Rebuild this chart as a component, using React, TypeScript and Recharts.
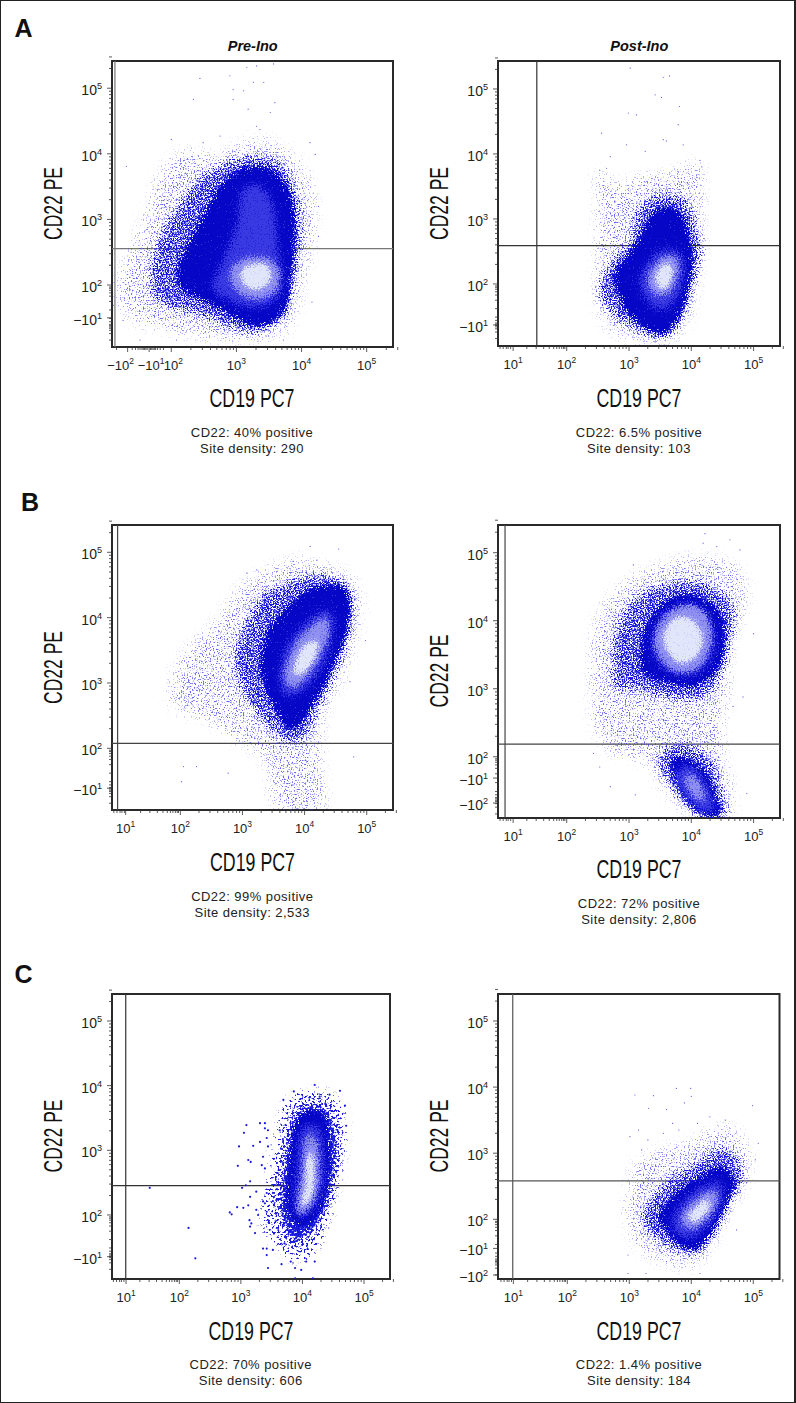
import React from 'react';
import { ScatterChart, Scatter, XAxis, YAxis, ReferenceLine, ReferenceArea } from 'recharts';

type P = [number, number];

// Density contours and single events, in decades of the channels (10^d).
const aLeftHalo: P[] = [[1.16,2.03],[1.31,2.38],[1.62,3.1],[1.83,3.71],[2.24,4.07],[2.65,3.96],[3.06,4.17],[3.47,4.22],[3.88,3.96],[4.13,3.61],[4.21,3.1],[4.13,2.48],[3.98,1.87],[3.83,1.36],[3.36,1.16],[2.75,1.16],[2.13,1.26],[1.52,1.41],[1.21,1.67]];
const aLeftShell: P[] = [[1.67,2.13],[1.77,2.64],[2.08,3.2],[2.39,3.61],[2.7,3.81],[3.06,3.96],[3.47,3.96],[3.77,3.76],[3.95,3.35],[4.01,2.89],[3.93,2.28],[3.8,1.67],[3.62,1.41],[3.26,1.26],[2.85,1.36],[2.44,1.54],[2.03,1.62],[1.72,1.82]];
const aLeftBody: P[] = [[2.08,2.18],[2.24,2.59],[2.49,3.05],[2.75,3.51],[3.06,3.76],[3.41,3.81],[3.72,3.61],[3.88,3.2],[3.9,2.69],[3.85,2.18],[3.77,1.67],[3.52,1.41],[3.21,1.39],[2.85,1.57],[2.49,1.77],[2.18,1.92]];
const aLeftMid: P[] = [[2.75,2.3],[3.0,2.95],[3.05,3.4],[3.26,3.55],[3.5,3.4],[3.62,3.0],[3.64,2.59],[3.72,2.13],[3.62,1.77],[3.26,1.64],[2.85,1.77],[2.6,1.97]];
const aLeftLight: P[] = [[2.9,2.23],[3.11,2.41],[3.42,2.43],[3.65,2.28],[3.65,1.97],[3.47,1.8],[3.16,1.8],[2.95,1.97]];
const aLeftCore: P[] = [[3.06,2.2],[3.26,2.33],[3.47,2.31],[3.54,2.13],[3.42,1.95],[3.16,1.95]];
const aLeftDots: P[] = [[3.31,5.34],[3.16,5.32],[3.57,5.37],[2.44,5.15],[2.9,5.19],[3.26,5.09],[3.42,5.09],[2.95,4.98],[3.11,4.96],[2.34,4.83],[3.59,4.78],[3.31,4.42],[3.36,4.37],[2.75,4.27],[2.0,4.22],[2.49,4.17],[4.13,4.17],[4.21,3.99],[4.26,3.2],[4.26,2.74],[4.16,1.74],[1.31,3.81],[1.11,1.69],[1.26,1.46],[1.52,1.16],[2.08,1.16],[3.72,1.16],[3.52,4.63],[2.95,4.83],[3.18,4.68]];

const aRightHalo: P[] = [[2.49,3.76],[2.86,3.5],[3.18,3.66],[3.6,3.71],[4.14,3.86],[4.18,3.35],[4.17,2.63],[4.09,2.02],[3.98,1.5],[3.76,1.2],[3.5,1.07],[3.07,1.14],[2.7,1.3],[2.49,1.71],[2.49,2.58],[2.49,3.25]];
const aRightShell: P[] = [[2.53,2.02],[2.75,2.43],[3.02,2.63],[3.07,3.04],[3.28,3.3],[3.6,3.4],[3.93,3.3],[4.09,2.89],[4.17,2.58],[4.09,2.17],[3.95,1.66],[3.76,1.3],[3.5,1.17],[3.07,1.3],[2.75,1.5],[2.53,1.76]];
const aRightBody: P[] = [[2.75,2.12],[2.96,2.43],[3.18,2.73],[3.34,3.04],[3.6,3.19],[3.87,3.04],[3.98,2.63],[4.03,2.32],[3.95,1.91],[3.82,1.5],[3.6,1.25],[3.39,1.25],[3.07,1.45],[2.86,1.76]];
const aRightMid: P[] = [[3.15,2.02],[3.31,2.37],[3.55,2.55],[3.82,2.5],[3.9,2.27],[3.82,1.86],[3.6,1.6],[3.34,1.66]];
const aRightLight: P[] = [[3.28,2.04],[3.42,2.32],[3.63,2.45],[3.81,2.37],[3.79,2.12],[3.66,1.86],[3.44,1.81]];
const aRightCore: P[] = [[3.42,2.09],[3.5,2.27],[3.66,2.32],[3.71,2.17],[3.63,1.96],[3.5,1.91]];
const aRightDots: P[] = [[3.02,5.32],[3.55,5.18],[3.65,5.2],[3.42,4.91],[3.52,4.87],[3.81,4.73],[2.99,4.63],[3.12,4.6],[3.79,4.45],[2.56,4.32],[3.55,4.22],[3.6,4.2],[2.96,4.14],[3.87,4.14],[2.7,3.96],[3.26,4.04],[4.14,3.9],[4.17,3.8],[2.53,3.75],[2.64,3.78]];

const bLeftHalo: P[] = [[1.86,3.05],[2.02,3.4],[2.26,3.66],[2.59,3.96],[2.96,4.47],[3.39,4.73],[3.82,4.88],[4.25,4.83],[4.74,4.63],[4.9,4.27],[4.85,3.81],[4.68,3.25],[4.36,2.64],[4.25,2.0],[4.3,1.08],[3.56,1.08],[3.35,1.82],[2.8,2.18],[2.42,2.43],[1.86,2.64]];
const bLeftShell: P[] = [[2.85,3.25],[2.96,3.76],[3.28,4.32],[3.66,4.53],[4.2,4.68],[4.68,4.53],[4.79,4.17],[4.71,3.66],[4.47,3.05],[4.2,2.54],[4.04,2.18],[3.72,2.08],[3.39,2.33],[3.07,2.74]];
const bLeftBody: P[] = [[3.28,3.25],[3.39,3.76],[3.72,4.17],[4.15,4.47],[4.63,4.47],[4.74,4.12],[4.63,3.66],[4.41,3.15],[4.09,2.59],[3.82,2.28],[3.66,2.38],[3.45,2.74]];
const bLeftMid: P[] = [[3.58,3.15],[3.72,3.61],[4.04,3.96],[4.36,4.14],[4.49,3.96],[4.41,3.51],[4.2,3.1],[3.93,2.84],[3.66,2.79]];
const bLeftLight: P[] = [[3.66,3.1],[3.82,3.56],[4.09,3.86],[4.33,4.02],[4.41,3.86],[4.31,3.51],[4.09,3.15],[3.82,2.92]];
const bLeftCore: P[] = [[3.82,3.2],[3.93,3.51],[4.15,3.66],[4.23,3.56],[4.12,3.3],[3.9,3.1]];
const bLeftDots: P[] = [[4.09,5.09],[4.55,5.05],[4.2,4.88],[3.82,4.86],[3.23,4.73],[3.07,4.68],[4.98,3.65],[4.79,1.87],[2.26,1.72],[2.05,1.72],[2.02,1.49],[2.77,1.62],[4.73,3.02],[4.62,4.63]];

const bRightHalo: P[] = [[2.4,2.83],[2.4,3.62],[2.53,4.11],[2.8,4.45],[3.18,4.7],[3.6,4.84],[4.03,4.94],[4.67,4.84],[4.89,4.5],[4.83,4.11],[4.62,3.67],[4.59,3.03],[4.51,2.44],[4.54,1.95],[4.65,1.14],[4.03,1.14],[3.5,1.6],[3.34,1.9],[2.75,2.05],[2.48,2.34]];
const bRightShellUpper: P[] = [[2.75,3.03],[2.75,3.72],[2.96,4.21],[3.39,4.5],[3.93,4.6],[4.41,4.5],[4.7,4.16],[4.62,3.62],[4.46,3.13],[4.14,2.83],[3.5,2.88],[3.07,2.98]];
const bRightShellLower: P[] = [[3.6,2.15],[3.93,2.2],[4.35,1.95],[4.54,1.36],[4.59,1.14],[4.09,1.14],[3.66,1.56],[3.44,1.9]];
const bRightBodyUpper: P[] = [[3.18,3.42],[3.28,3.96],[3.71,4.35],[4.14,4.35],[4.46,4.11],[4.54,3.67],[4.41,3.27],[4.03,3.03],[3.6,3.1],[3.28,3.18]];
const bRightBodyLower: P[] = [[3.66,1.85],[3.87,2.0],[4.25,1.75],[4.41,1.36],[4.46,1.14],[4.19,1.14],[3.93,1.36]];
const bRightMidUpper: P[] = [[3.36,3.67],[3.55,4.11],[3.98,4.25],[4.3,4.06],[4.38,3.62],[4.19,3.27],[3.87,3.18],[3.5,3.32]];
const bRightMidLower: P[] = [[3.71,1.71],[3.98,1.9],[4.25,1.61],[4.38,1.26],[4.25,1.14],[3.98,1.31]];
const bRightLightUpper: P[] = [[3.39,3.72],[3.6,4.11],[3.98,4.25],[4.27,4.06],[4.33,3.67],[4.14,3.32],[3.82,3.23],[3.55,3.37]];
const bRightLightLower: P[] = [[3.87,1.71],[4.03,1.75],[4.17,1.56],[4.25,1.36],[4.14,1.34],[3.98,1.46]];
const bRightCore: P[] = [[3.55,3.81],[3.76,4.06],[4.03,4.01],[4.19,3.76],[4.09,3.47],[3.82,3.37],[3.6,3.57]];
const bRightDots: P[] = [[4.22,5.28],[4.62,5.19],[4.19,5.14],[4.41,5.09],[4.78,5.04],[3.07,4.82],[5.0,3.81],[4.83,2.88],[4.67,2.74],[4.89,1.46],[2.43,2.05],[2.53,1.85],[2.7,1.56],[3.1,1.44]];

const cLeftHalo: P[] = [[3.36,2.03],[3.52,2.85],[3.69,3.62],[3.96,3.88],[4.39,3.88],[4.66,3.62],[4.66,3.0],[4.5,2.23],[4.34,1.72],[4.12,1.36],[3.85,1.31],[3.63,1.51],[3.42,1.72]];
const cLeftShell: P[] = [[3.61,2.13],[3.69,2.85],[3.85,3.52],[4.12,3.73],[4.44,3.62],[4.58,3.16],[4.5,2.44],[4.28,1.87],[4.06,1.66],[3.85,1.56],[3.69,1.82]];
const cLeftBody: P[] = [[3.74,2.13],[3.79,2.85],[3.88,3.42],[4.12,3.62],[4.36,3.52],[4.44,3.06],[4.42,2.44],[4.23,1.97],[3.96,1.82]];
const cLeftMid: P[] = [[3.85,2.13],[3.9,2.75],[3.96,3.31],[4.15,3.42],[4.31,3.31],[4.36,2.85],[4.34,2.44],[4.17,2.08],[3.96,1.95]];
const cLeftLight: P[] = [[3.9,2.03],[3.98,2.64],[4.04,3.16],[4.17,3.26],[4.25,3.06],[4.28,2.7],[4.23,2.28],[4.04,2.03]];
const cLeftCore: P[] = [[3.96,2.18],[4.04,2.44],[4.06,2.9],[4.17,2.95],[4.2,2.64],[4.15,2.28],[4.01,2.13]];
const cLeftDots: P[] = [[1.52,2.42],[2.15,1.8],[2.26,1.33],[2.97,3.06],[2.95,2.76],[3.09,3.39],[3.05,3.27],[2.82,2.04],[2.85,2.01],[3.02,2.42],[3.08,2.46],[3.15,2.52],[2.94,2.12],[3.04,2.11],[3.12,2.15],[3.15,2.28],[3.25,2.36],[3.12,2.85],[3.16,2.82],[3.2,3.07],[3.31,3.42],[3.39,3.42],[3.39,3.34],[3.44,3.31],[3.31,3.13],[3.42,3.19],[3.44,3.06],[3.36,2.9],[3.39,2.72],[3.34,2.77],[3.14,1.92],[3.17,1.87],[3.15,1.82],[3.23,1.72],[3.28,2.0],[3.36,2.21],[3.39,2.18],[3.42,2.05],[3.36,1.48],[3.42,1.48],[3.42,1.38],[3.44,1.18],[3.66,1.24],[3.81,1.28],[3.88,1.18],[3.98,1.15],[4.06,1.28],[4.2,1.28],[3.88,1.02],[4.17,1.02],[3.52,1.46],[3.71,1.56],[3.63,3.31],[3.69,3.78],[3.86,3.91],[4.2,4.01],[4.61,3.92],[4.69,3.69],[4.71,3.38],[4.28,3.83],[4.44,3.86],[3.52,2.34],[3.42,2.34],[3.25,2.08]];

const cRightHalo: P[] = [[2.98,2.45],[3.1,2.85],[3.5,3.05],[3.92,3.15],[4.46,3.4],[4.78,3.3],[4.95,2.9],[4.84,2.49],[4.57,2.04],[4.3,1.59],[4.03,1.28],[3.6,1.33],[3.17,1.54],[2.98,1.89]];
const cRightShell: P[] = [[3.17,1.99],[3.39,2.39],[3.76,2.7],[4.14,2.9],[4.46,3.1],[4.78,2.9],[4.84,2.6],[4.6,2.19],[4.41,1.79],[4.14,1.48],[3.82,1.48],[3.44,1.69]];
const cRightBody: P[] = [[3.47,2.04],[3.76,2.39],[4.14,2.65],[4.46,2.8],[4.7,2.6],[4.6,2.29],[4.41,1.94],[4.25,1.69],[4.03,1.54],[3.76,1.64]];
const cRightMid: P[] = [[3.68,2.02],[3.87,2.29],[4.25,2.55],[4.52,2.55],[4.52,2.29],[4.3,1.94],[4.03,1.71],[3.76,1.76]];
const cRightLight: P[] = [[3.82,2.04],[4.03,2.29],[4.3,2.44],[4.44,2.39],[4.38,2.14],[4.14,1.89],[3.92,1.86]];
const cRightCore: P[] = [[3.95,2.07],[4.14,2.24],[4.27,2.32],[4.3,2.17],[4.14,1.99],[4.0,1.96]];
const cRightDots: P[] = [[3.09,3.88],[3.39,3.87],[3.76,3.98],[3.99,3.98],[4.0,3.86],[3.89,3.76],[3.31,3.68],[3.6,3.66],[4.99,3.72],[3.01,3.25],[3.15,3.35],[5.08,3.15],[5.03,2.9],[2.98,1.46],[2.98,1.18],[3.27,1.18],[4.14,1.18],[3.6,1.36],[4.73,1.84],[4.89,2.55],[3.3,3.2],[3.55,3.3],[3.8,3.35],[4.1,3.45],[4.3,3.55],[4.55,3.5],[3.2,3.05],[3.7,3.45]];

type T = [number, string];
const decades: T[] = [[2,'10|2'],[3,'10|3'],[4,'10|4'],[5,'10|5']];
const aLeftXMajor: T[] = [[1.33,'−10|2'],[1.66,'−10|1'],...decades];
const aLeftYMajor: T[] = [[1.5,'−10|1'],...decades];
const aRightXMajor: T[] = [[1.14,'10|1'],...decades];
const aRightYMajor: T[] = [[1.37,'−10|1'],...decades];
const bLeftXMajor: T[] = [[1.12,'10|1'],...decades];
const bLeftYMajor: T[] = [[1.39,'−10|1'],...decades];
const bRightXMajor: T[] = [[1.14,'10|1'],...decades];
const bRightYMajor: T[] = [[1.32,'−10|2'],[1.687,'−10|1'],...decades];
const cLeftXMajor: T[] = [[1.135,'10|1'],...decades];
const cLeftYMajor: T[] = [[1.355,'−10|1'],...decades];
const cRightXMajor: T[] = [[1.13,'10|1'],...decades];
const cRightYMajor: T[] = [[1.157,'−10|2'],[1.56,'−10|1'],...decades];

const aLeftLowX = [1.16,1.4,1.45,1.49,1.52,1.55,1.57,1.59,1.61,1.63,1.68,1.7,1.72,1.74,1.76,1.79,1.83,1.88];
const lowX = [0.93,0.98,1.03,1.06,1.1,1.36,1.51,1.63,1.72,1.79,1.84,1.88,1.92,1.95,1.97];
const lowY = [1.97,1.95,1.92,1.88,1.83,1.75,1.62,1.49,1.44,1.4,1.38,1.36,1.34,1.31,1.26,1.16];
const decadeSteps = [2,3,4,5,6,7,8,9];

interface Panel {
  left: number; right: number; top: number; bottom: number;
  xDomain: [number, number]; yDomain: [number, number];
  xMajor: T[]; yMajor: T[]; xLow: number[];
  gateX: number; gateY: number; gateColor: string;
  halo: P[][]; shell: P[][]; body: P[][]; mid: P[][]; light: P[][]; core: P[][]; dots: P[];
  coarse?: boolean;
  caption: [string, string]; capX: number; capY: number;
  titleX: number; titleY: number; sideX: number; sideY: number;
}

const panels: Panel[] = [
  { left: 112, right: 393, top: 61, bottom: 347, xDomain: [1.09, 5.404], yDomain: [1.055, 5.415], xMajor: aLeftXMajor, yMajor: aLeftYMajor, xLow: aLeftLowX, gateX: 1.135, gateY: 2.555, gateColor: '#777', halo: [aLeftHalo], shell: [aLeftShell], body: [aLeftBody], mid: [aLeftMid], light: [aLeftLight], core: [aLeftCore], dots: aLeftDots, caption: ['CD22: 40% positive', 'Site density: 290'], capX: 252, capY: 436.7, titleX: 252, titleY: 406.5, sideX: 61.5, sideY: 203.5 },
  { left: 498, right: 780, top: 61, bottom: 346, xDomain: [0.897, 5.424], yDomain: [1.046, 5.43], xMajor: aRightXMajor, yMajor: aRightYMajor, xLow: lowX, gateX: 1.52, gateY: 2.59, gateColor: '#333', halo: [aRightHalo], shell: [aRightShell], body: [aRightBody], mid: [aRightMid], light: [aRightLight], core: [aRightCore], dots: aRightDots, caption: ['CD22: 6.5% positive', 'Site density: 103'], capX: 639, capY: 436.7, titleX: 639, titleY: 406.5, sideX: 447.5, sideY: 203.5 },
  { left: 112, right: 393, top: 525, bottom: 810, xDomain: [0.9, 5.423], yDomain: [1.056, 5.418], xMajor: bLeftXMajor, yMajor: bLeftYMajor, xLow: lowX, gateX: 0.99, gateY: 2.075, gateColor: '#444', halo: [bLeftHalo], shell: [bLeftShell], body: [bLeftBody], mid: [bLeftMid], light: [bLeftLight], core: [bLeftCore], dots: bLeftDots, caption: ['CD22: 99% positive', 'Site density: 2,533'], capX: 252.3, capY: 900.7, titleX: 252.5, titleY: 871, sideX: 61.5, sideY: 667.5 },
  { left: 498, right: 780, top: 525, bottom: 818, xDomain: [0.897, 5.424], yDomain: [1.1, 5.407], xMajor: bRightXMajor, yMajor: bRightYMajor, xLow: lowX, gateX: 1.01, gateY: 2.187, gateColor: '#444', halo: [bRightHalo], shell: [bRightShellUpper, bRightShellLower], body: [bRightBodyUpper, bRightBodyLower], mid: [bRightMidUpper, bRightMidLower], light: [bRightLightUpper, bRightLightLower], core: [bRightCore], dots: bRightDots, caption: ['CD22: 72% positive', 'Site density: 2,806'], capX: 639, capY: 908.3, titleX: 639, titleY: 877.5, sideX: 447.5, sideY: 671 },
  { left: 112, right: 390, top: 994, bottom: 1279, xDomain: [0.907, 5.422], yDomain: [1.01, 5.417], xMajor: cLeftXMajor, yMajor: cLeftYMajor, xLow: lowX, gateX: 1.13, gateY: 2.455, gateColor: '#333', halo: [cLeftHalo], shell: [cLeftShell], body: [cLeftBody], mid: [cLeftMid], light: [cLeftLight], core: [cLeftCore], dots: cLeftDots, coarse: true, caption: ['CD22: 70% positive', 'Site density: 606'], capX: 250.7, capY: 1369.3, titleX: 251, titleY: 1339.5, sideX: 61.5, sideY: 1136 },
  { left: 498, right: 779.5, top: 994, bottom: 1279, xDomain: [0.882, 5.423], yDomain: [1.097, 5.408], xMajor: cRightXMajor, yMajor: cRightYMajor, xLow: lowX, gateX: 1.12, gateY: 2.58, gateColor: '#555', halo: [cRightHalo], shell: [cRightShell], body: [cRightBody], mid: [cRightMid], light: [cRightLight], core: [cRightCore], dots: cRightDots, caption: ['CD22: 1.4% positive', 'Site density: 184'], capX: 639, capY: 1369.3, titleX: 639, titleY: 1339.5, sideX: 447.5, sideY: 1136 },
];

const FONT = '"Liberation Sans", Arial, sans-serif';
const toRows = (pts: P[]) => pts.map(([x, y]) => ({ x, y }));
const logMinors = (() => {
  const out: number[] = [];
  [2, 3, 4].forEach((d) => decadeSteps.forEach((s) => out.push(d + Math.log10(s))));
  decadeSteps.slice(0, 2).forEach((s) => out.push(5 + Math.log10(s)));
  return out;
})();

const Lab = ({ label, x, y, anchor, size }: { label: string; x: number; y: number; anchor: 'middle' | 'end'; size: number }) => {
  const [base, sup] = label.split('|');
  return (
    <text x={x} y={y} textAnchor={anchor} fontFamily={FONT} fontSize={size} fill="#222">
      {base}
      <tspan dy={-6} fontSize={size * 0.65}>{sup}</tspan>
    </text>
  );
};

const dot = (r: number, fill: string) => (p: any) => <circle cx={p.cx} cy={p.cy} r={r} fill={fill} />;
const noMark = () => <g />;

// Closed smooth outline through the scaled contour points.
const contour = (fill: string) => (props: any) => {
  const pts: { x: number; y: number }[] = props.points || [];
  const n = pts.length;
  if (!n) return <g />;
  let d = `M${pts[0].x},${pts[0].y}`;
  for (let i = 0; i < n; i++) {
    const a = pts[(i - 1 + n) % n], b = pts[i], c = pts[(i + 1) % n], e = pts[(i + 2) % n];
    d += `C${b.x + (c.x - a.x) / 6},${b.y + (c.y - a.y) / 6} ${c.x - (e.x - b.x) / 6},${c.y - (e.y - b.y) / 6} ${c.x},${c.y}`;
  }
  return <path d={d + 'Z'} fill={fill} stroke="none" />;
};

const stippleFilter = (id: string, blur: number, k: number, color: string, freq: number, slope: number, seed: number) => (
  <filter id={id} x="-30%" y="-30%" width="160%" height="160%" colorInterpolationFilters="sRGB" key={id}>
    <feGaussianBlur in="SourceAlpha" stdDeviation={blur} result="d" />
    <feTurbulence type="fractalNoise" baseFrequency={freq} numOctaves={2} seed={seed} result="t" />
    <feColorMatrix in="t" type="matrix" values="0 0 0 0 0  0 0 0 0 0  0 0 0 0 0  2.4 0 0 0 -0.7" result="n" />
    <feComposite in="d" in2="n" operator="arithmetic" k1={0} k2={k} k3={1} k4={-1} result="a" />
    <feComponentTransfer in="a" result="b"><feFuncA type="linear" slope={slope} /></feComponentTransfer>
    <feFlood floodColor={color} result="c" />
    <feComposite in="c" in2="b" operator="in" />
  </filter>
);

const PlotPanel = ({ p }: { p: Panel }) => {
  const w = p.right - p.left;
  const h = p.bottom - p.top;
  const majorX = new Map(p.xMajor);
  const majorY = new Map(p.yMajor);
  const xTicks = [...p.xMajor.map((t) => t[0]), ...p.xLow.filter((v) => !majorX.has(v)), ...logMinors];
  const yTicks = [...p.yMajor.map((t) => t[0]), ...lowY.filter((v) => !majorY.has(v)), ...logMinors];
  const XTick = (t: any) => {
    const v = t.payload.value;
    const lab = majorX.get(v);
    const dx = lab === '−10|2' ? -7 : lab === '−10|1' ? 2 : lab === '10|2' && p.xLow === aLeftLowX ? 2 : 0;
    return (
      <g>
        <line x1={t.x} x2={t.x} y1={t.y} y2={t.y + (lab ? 5 : 3)} stroke="#333" strokeWidth={0.8} />
        {lab ? <Lab label={lab} x={t.x + dx} y={t.y + 23} anchor="middle" size={13} /> : null}
      </g>
    );
  };
  const YTick = (t: any) => {
    const v = t.payload.value;
    const lab = majorY.get(v);
    return (
      <g>
        <line x1={t.x} x2={t.x - (lab ? 5 : 3)} y1={t.y} y2={t.y} stroke="#333" strokeWidth={0.8} />
        {lab ? <Lab label={lab} x={t.x - 10} y={t.y + 7} anchor="end" size={14} /> : null}
      </g>
    );
  };
  const layer = (set: P[][], cls: string | undefined) =>
    set.map((c, i) => (
      <Scatter key={(cls || '') + i} data={toRows(c)} className={cls} shape={noMark} line={contour('#000')} lineType="joint" isAnimationActive={false} />
    ));
  return (
    <div style={{ position: 'absolute', left: p.left - 70, top: p.top - 10 }}>
      <ScatterChart width={w + 76} height={h + 80} margin={{ top: 10, right: 6, bottom: 0, left: 0 }}>
        <XAxis type="number" dataKey="x" domain={p.xDomain} allowDataOverflow ticks={xTicks} interval={0} tick={XTick} tickLine={false} axisLine={false} tickSize={0} tickMargin={0} height={70} />
        <YAxis type="number" dataKey="y" domain={p.yDomain} allowDataOverflow ticks={yTicks} interval={0} tick={YTick} tickLine={false} axisLine={false} tickSize={0} tickMargin={0} width={70} />
        {layer(p.halo, p.coarse ? 'lyr-halo-coarse' : 'lyr-halo')}
        {layer(p.shell, p.coarse ? 'lyr-shell-coarse' : 'lyr-shell')}
        {layer(p.body, 'lyr-body')}
        {layer(p.mid, 'lyr-mid')}
        {layer(p.light, 'lyr-light')}
        {layer(p.core, 'lyr-core')}
        <Scatter data={toRows(p.dots)} shape={p.coarse ? dot(1.1, '#1a1adc') : dot(0.6, '#5a5aea')} isAnimationActive={false} />
        <ReferenceLine x={p.gateX} stroke={p.gateColor} strokeWidth={1.2} />
        <ReferenceLine y={p.gateY} stroke={p.gateColor} strokeWidth={1.2} />
        <ReferenceArea x1={p.xDomain[0]} x2={p.xDomain[1]} y1={p.yDomain[0]} y2={p.yDomain[1]} fill="none" stroke="#2a2a2a" strokeWidth={2} fillOpacity={0} />
      </ScatterChart>
    </div>
  );
};

const css = `
.lyr-halo{filter:url(#f-halo)}
.lyr-shell{filter:url(#f-shell)}
.lyr-halo-coarse{filter:url(#f-halo-c)}
.lyr-shell-coarse{filter:url(#f-shell-c)}
.lyr-body{filter:url(#f-body)}
.lyr-mid{filter:url(#f-mid)}
.lyr-light{filter:url(#f-light)}
.lyr-core{filter:url(#f-core)}
`;

export default function App() {
  return (
    <div style={{ position: 'absolute', left: 0, top: 0, width: 796, height: 1403, background: '#fff', overflow: 'hidden' }}>
      <style>{css}</style>
      <svg width={0} height={0} style={{ position: 'absolute' }}>
        <defs>
          {stippleFilter('f-halo', 7, 0.38, '#3434e8', 0.73, 2, 3)}
          {stippleFilter('f-shell', 5, 0.7, '#1414dc', 0.73, 3, 8)}
          {stippleFilter('f-halo-c', 5, 0.42, '#1a1adc', 0.42, 5, 5)}
          {stippleFilter('f-shell-c', 4, 0.8, '#1a1adc', 0.5, 4, 9)}
          {stippleFilter('f-body', 3.5, 1.2, '#0606c6', 0.73, 4, 12)}
          {stippleFilter('f-mid', 5.5, 1.35, '#3a3ae2', 0.73, 1.6, 14)}
          {stippleFilter('f-light', 4, 1.45, '#8f90f0', 0.73, 1.6, 17)}
          {stippleFilter('f-core', 3, 1.5, '#e2e6fb', 0.73, 1.5, 21)}
        </defs>
      </svg>
      {panels.map((p, i) => <PlotPanel key={i} p={p} />)}
      <svg width={796} height={1403} style={{ position: 'absolute', left: 0, top: 0, pointerEvents: 'none' }}>
        <text x={14.5} y={37} fontFamily={FONT} fontWeight="bold" fontSize={25} fill="#111">A</text>
        <text x={21} y={511} fontFamily={FONT} fontWeight="bold" fontSize={25} fill="#111">B</text>
        <text x={14.5} y={983} fontFamily={FONT} fontWeight="bold" fontSize={25} fill="#111">C</text>
        <text x={252.7} y={51} textAnchor="middle" fontFamily={FONT} fontWeight="bold" fontStyle="italic" fontSize={14.5} fill="#111">Pre-Ino</text>
        <text x={639.3} y={51} textAnchor="middle" fontFamily={FONT} fontWeight="bold" fontStyle="italic" fontSize={14.5} fill="#111">Post-Ino</text>
        {panels.map((p, i) => (
          <g key={i}>
            <text x={p.titleX} y={p.titleY} textAnchor="middle" fontFamily={FONT} fontSize={25} fill="#111" textLength={85} lengthAdjust="spacingAndGlyphs">CD19 PC7</text>
            <text transform={`translate(${p.sideX},${p.sideY}) rotate(-90)`} textAnchor="middle" fontFamily={FONT} fontSize={25} fill="#111" textLength={73} lengthAdjust="spacingAndGlyphs">CD22 PE</text>
            <g fontFamily={FONT} fontSize={13} letterSpacing={0.45} fill="#222" textAnchor="middle">
              <text x={p.capX} y={p.capY}>{p.caption[0]}</text>
              <text x={p.capX} y={p.capY + 16}>{p.caption[1]}</text>
            </g>
          </g>
        ))}
      </svg>
      <div style={{ position: 'absolute', left: 0, top: 0, width: 796, height: 1403, boxSizing: 'border-box', borderTop: '1.5px solid #222', borderLeft: '1.5px solid #222', borderBottom: '1.5px solid #222', borderRight: '2px solid #222', pointerEvents: 'none' }} />
    </div>
  );
}
